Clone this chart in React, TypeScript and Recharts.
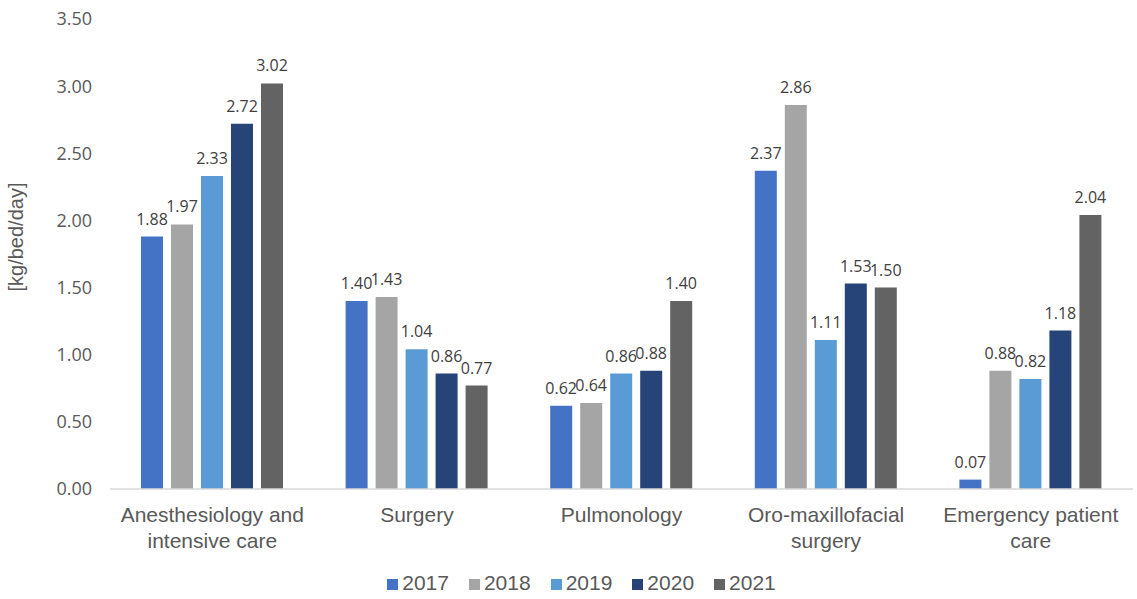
import { Bar, BarChart, LabelList, Legend, XAxis, YAxis, Label } from 'recharts'

const categories = [
  'Anesthesiology and\nintensive care',
  'Surgery',
  'Pulmonology',
  'Oro-maxillofacial\nsurgery',
  'Emergency patient\ncare'
]
const years = ['2017', '2018', '2019', '2020', '2021']
const values2017 = [1.88, 1.4, 0.62, 2.37, 0.07]
const values2018 = [1.97, 1.43, 0.64, 2.86, 0.88]
const values2019 = [2.33, 1.04, 0.86, 1.11, 0.82]
const values2020 = [2.72, 0.86, 0.88, 1.53, 1.18]
const values2021 = [3.02, 0.77, 1.4, 1.5, 2.04]
const yTicks = [0, 0.5, 1, 1.5, 2, 2.5, 3, 3.5]

const seriesValues = [values2017, values2018, values2019, values2020, values2021]
const colors = ['#4472C4', '#A5A5A5', '#5B9BD5', '#264478', '#636363']

const data = categories.map((name, i) => {
  const row: Record<string, string | number> = { name }
  years.forEach((y, j) => { row[y] = seriesValues[j][i] })
  return row
})

const numFont = '"Open Sans", "Noto Sans", sans-serif'
const textFont = '"Liberation Sans", Arial, sans-serif'

function CategoryTick({ x, y, payload }: any) {
  const lines = String(payload.value).split('\n')
  return (
    <text x={x} y={y} textAnchor="middle" fill="#595959" fontSize={21} fontFamily={textFont}>
      {lines.map((line, i) => (
        <tspan key={i} x={x} dy={i === 0 ? 25 : 26}>{line}</tspan>
      ))}
    </text>
  )
}

export default function App() {
  return (
    <div style={{ position: 'absolute', left: 0, top: 0, width: 1137, height: 599, background: '#fff' }}>
      <BarChart
        width={1137}
        height={599}
        data={data}
        margin={{ top: 19, right: 4, left: 0, bottom: 16 }}
        barSize={22}
        barGap={8}
      >
        <XAxis
          dataKey="name"
          axisLine={{ stroke: '#D9D9D9', strokeWidth: 1.5 }}
          tickLine={false}
          tick={<CategoryTick />}
          interval={0}
          height={70}
        />
        <YAxis
          domain={[0, 3.5]}
          ticks={yTicks}
          axisLine={false}
          tickLine={false}
          tickSize={0}
          tickMargin={18}
          width={110}
          tickFormatter={(v: number) => v.toFixed(2)}
          tick={{ fill: '#595959', fontSize: 18, fontFamily: numFont }}
        >
          <Label
            value="[kg/bed/day]"
            angle={-90}
            position="insideLeft"
            offset={0}
            dx={16}
            dy={-17}
            style={{ textAnchor: 'middle', fill: '#595959', fontSize: 20, fontFamily: textFont }}
          />
        </YAxis>
        <Legend
          verticalAlign="bottom"
          iconType="square"
          iconSize={11}
          wrapperStyle={{ fontFamily: textFont, fontSize: 21, color: '#595959', paddingTop: 0, paddingLeft: 25, bottom: 4 }}
          formatter={(value: string) => <span style={{ color: '#595959', marginRight: 10 }}>{value}</span>}
        />
        {years.map((y, j) => (
          <Bar key={y} dataKey={y} fill={colors[j]} isAnimationActive={false}>
            <LabelList
              dataKey={y}
              position="top"
              offset={12}
              formatter={(v: number) => v.toFixed(2)}
              style={{ fill: '#404040', fontSize: 16, fontFamily: numFont }}
            />
          </Bar>
        ))}
      </BarChart>
    </div>
  )
}
